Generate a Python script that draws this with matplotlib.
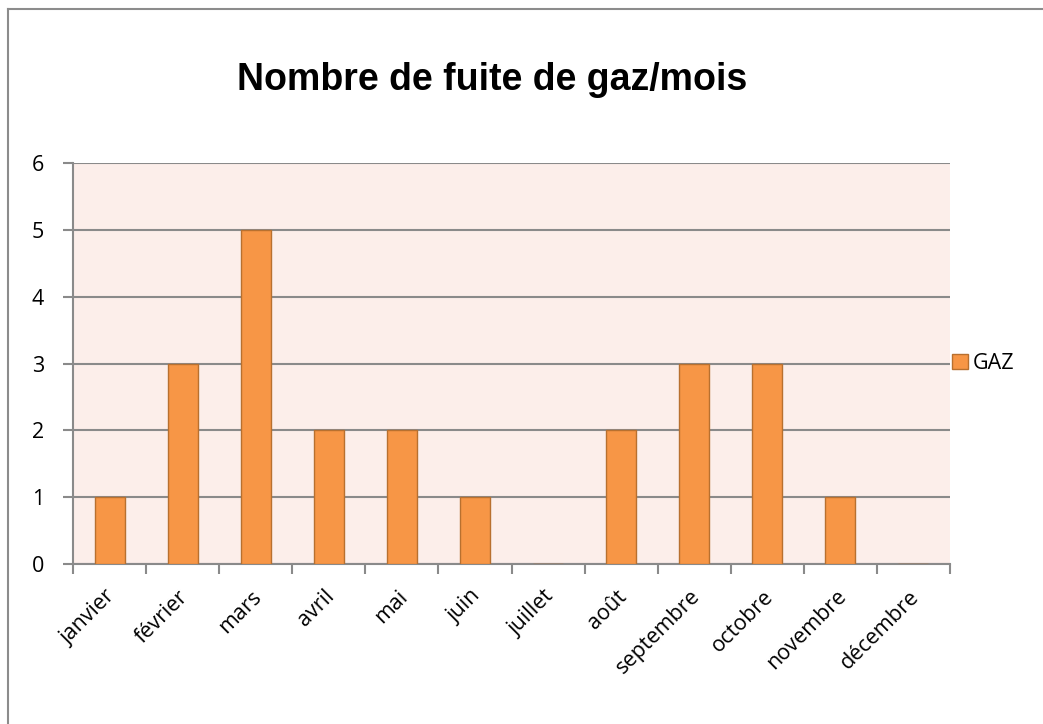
import matplotlib
matplotlib.use("Agg")
import matplotlib.pyplot as plt
from matplotlib.lines import Line2D
from matplotlib.transforms import ScaledTranslation

months = ["janvier", "février", "mars", "avril", "mai", "juin", "juillet",
          "août", "septembre", "octobre", "novembre", "décembre"]
gaz = [1, 3, 5, 2, 2, 1, 0, 2, 3, 3, 1, 0]
yticks = [0, 1, 2, 3, 4, 5, 6]

W, H = 1043, 724
fig = plt.figure(figsize=(W / 100, H / 100), dpi=100)
fig.patch.set_facecolor("white")

# outer border (only top and left visible)
fig.add_artist(Line2D([8 / W, 8 / W], [0, 1 - 9 / H], color="#8c8c8c", lw=1.5, transform=fig.transFigure))
fig.add_artist(Line2D([8 / W, 1], [1 - 9 / H, 1 - 9 / H], color="#8c8c8c", lw=1.5, transform=fig.transFigure))

left, right, top, bottom = 73, 950, 163, 564
ax = fig.add_axes([left / W, 1 - bottom / H, (right - left) / W, (bottom - top) / H])
ax.set_facecolor("#FCEEEA")

x = list(range(len(months)))
ax.bar(x, gaz, width=0.41, color="#F79646", edgecolor="#B8702F", linewidth=1.0, zorder=3, label="GAZ")

ax.set_xlim(-0.5, len(months) - 0.5)
ax.set_ylim(0, 6)
ax.set_yticks(yticks)
ax.set_yticklabels([str(v) for v in yticks], fontsize=15.5, family="Open Sans")
ax.yaxis.grid(True, color="#8a8a8a", lw=1.5, zorder=1)
ax.set_axisbelow(True)

ax.set_xticks([i - 0.5 for i in range(len(months) + 1)], minor=False)
ax.set_xticklabels([])
ax.set_xticks(x, minor=True)
ax.set_xticklabels(months, minor=True, rotation=45, ha="right", rotation_mode="anchor",
                   fontsize=15.5, family="Open Sans")
ax.tick_params(axis="x", which="minor", length=0, pad=8)
ax.tick_params(axis="x", which="major", length=7, width=1.5, color="#8a8a8a", direction="out")
ax.tick_params(axis="y", length=7, width=1.5, color="#8a8a8a", direction="out", pad=14)

shift = ScaledTranslation(-5 / 100, -11 / 100, fig.dpi_scale_trans)
for lab in ax.get_xticklabels(minor=True):
    lab.set_transform(lab.get_transform() + shift)

for s in ["top", "right"]:
    ax.spines[s].set_visible(False)
for s in ["left", "bottom"]:
    ax.spines[s].set_color("#8a8a8a")
    ax.spines[s].set_linewidth(1.5)

fig.text(492 / W, 1 - 80 / H, "Nombre de fuite de gaz/mois", ha="center", va="center",
         fontsize=27, fontweight="bold", family="Liberation Sans")

leg = ax.legend(loc="center left", bbox_to_anchor=(0.992, 0.5), frameon=False,
                prop={"family": "Open Sans", "size": 15.5}, handlelength=0.75, handleheight=0.75,
                handletextpad=0.25, borderaxespad=0)

fig.savefig("out.png", dpi=100)
